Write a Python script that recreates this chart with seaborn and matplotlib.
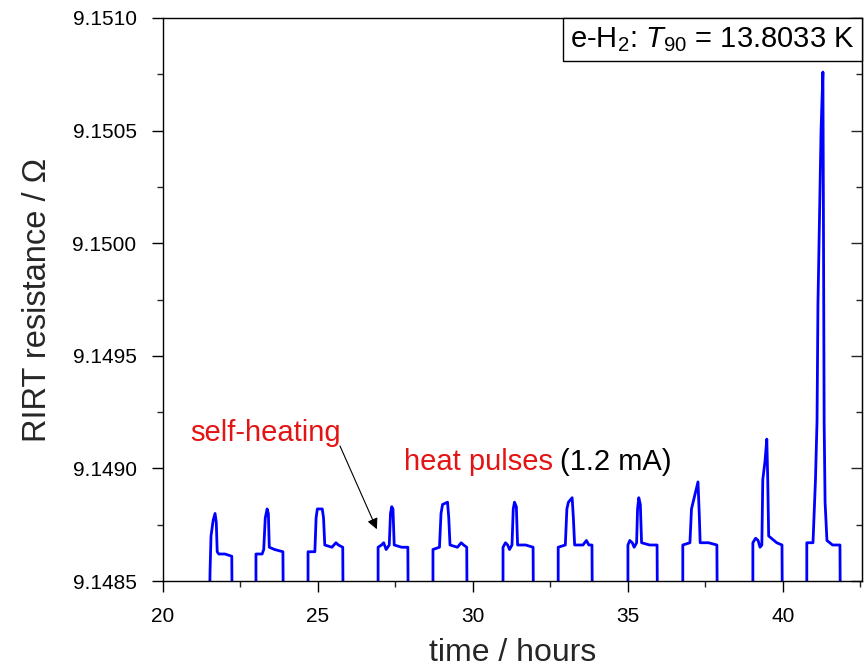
import matplotlib
matplotlib.use('Agg')
import matplotlib.pyplot as plt
import pandas as pd
import seaborn as sns
from matplotlib.ticker import MultipleLocator, FormatStrFormatter
from matplotlib.offsetbox import AnchoredText

sns.set_style('ticks')
plt.rcParams['font.family'] = ['Liberation Sans', 'DejaVu Sans']
plt.rcParams['mathtext.fontset'] = 'custom'
plt.rcParams['mathtext.rm'] = 'Liberation Sans'
plt.rcParams['mathtext.it'] = 'Liberation Sans:italic'

# Trace, pulse by pulse (9.1484 = off-scale low)
time_h = [
    # pulse 1
    21.50, 21.52, 21.55, 21.62, 21.68, 21.72, 21.75, 21.80, 22.00, 22.22, 22.23,
    # pulse 2
    23.00, 23.00, 23.20, 23.25, 23.30, 23.36, 23.40, 23.43, 23.60, 23.87, 23.88,
    # pulse 3
    24.68, 24.68, 24.90, 24.94, 24.98, 25.14, 25.18, 25.22, 25.45, 25.58, 25.66, 25.80, 25.81,
    # pulse 4
    26.94, 26.94, 27.05, 27.12, 27.20, 27.30, 27.34, 27.38, 27.42, 27.46, 27.70, 27.90, 27.91,
    # pulse 5
    28.71, 28.71, 28.92, 28.97, 29.02, 29.18, 29.22, 29.26, 29.50, 29.62, 29.70, 29.80, 29.81,
    # pulse 6
    30.97, 30.97, 31.05, 31.12, 31.18, 31.26, 31.30, 31.34, 31.40, 31.44, 31.70, 31.94, 31.95,
    # pulse 7
    32.75, 32.75, 32.98, 33.03, 33.08, 33.20, 33.24, 33.28, 33.55, 33.66, 33.74, 33.84, 33.85,
    # pulse 8
    35.00, 35.00, 35.06, 35.14, 35.20, 35.28, 35.31, 35.35, 35.40, 35.44, 35.70, 35.94, 35.95,
    # pulse 9
    36.77, 36.77, 37.00, 37.05, 37.12, 37.26, 37.30, 37.33, 37.60, 37.87, 37.88,
    # pulse 10
    39.03, 39.03, 39.12, 39.20, 39.26, 39.32, 39.35, 39.42, 39.48, 39.51, 39.54, 39.80, 39.97, 39.98,
    # pulse 11
    40.77, 40.77, 40.97, 41.05, 41.10, 41.13, 41.23, 41.29, 41.31, 41.33, 41.36, 41.42, 41.60, 41.84, 41.85,
]
resistance = [
    9.1484, 9.14855, 9.14870, 9.14877, 9.14880, 9.14876, 9.14863, 9.14862, 9.14862, 9.14861, 9.1484,
    9.1484, 9.14862, 9.14862, 9.14864, 9.14878, 9.14882, 9.14880, 9.14865, 9.14864, 9.14863, 9.1484,
    9.1484, 9.14863, 9.14863, 9.14878, 9.14882, 9.14882, 9.14878, 9.14866, 9.14865, 9.14867, 9.14866, 9.14865, 9.1484,
    9.1484, 9.14865, 9.14866, 9.14867, 9.14864, 9.14866, 9.14880, 9.14883, 9.14882, 9.14866, 9.14865, 9.14865, 9.1484,
    9.1484, 9.14864, 9.14865, 9.14880, 9.14884, 9.14885, 9.14878, 9.14866, 9.14865, 9.14867, 9.14866, 9.14865, 9.1484,
    9.1484, 9.14865, 9.14867, 9.14866, 9.14864, 9.14866, 9.14882, 9.14885, 9.14883, 9.14866, 9.14866, 9.14865, 9.1484,
    9.1484, 9.14865, 9.14866, 9.14882, 9.14885, 9.14887, 9.14878, 9.14866, 9.14866, 9.14868, 9.14866, 9.14866, 9.1484,
    9.1484, 9.14866, 9.14868, 9.14867, 9.14865, 9.14867, 9.14882, 9.14887, 9.14884, 9.14867, 9.14866, 9.14866, 9.1484,
    9.1484, 9.14866, 9.14867, 9.14882, 9.14886, 9.14894, 9.14880, 9.14867, 9.14867, 9.14866, 9.1484,
    9.1484, 9.14867, 9.14869, 9.14868, 9.14865, 9.14866, 9.14895, 9.14903, 9.14913, 9.14895, 9.14870, 9.14867, 9.14866, 9.1484,
    9.1484, 9.14867, 9.14867, 9.14895, 9.14921, 9.14973, 9.15050, 9.15076, 9.15000, 9.14920, 9.14885, 9.14868, 9.14866, 9.14866, 9.1484,
]

df = pd.DataFrame({'time': time_h, 'R': resistance})

fig = plt.figure(figsize=(8.65, 6.69), dpi=100)
ax = fig.add_axes([0.1884, 0.1315, 0.8081, 0.8416])

sns.lineplot(data=df, x='time', y='R', sort=False, estimator=None,
             color='#0000ff', linewidth=2.0, ax=ax)

ax.set_xlim(20, 42.55)
ax.set_ylim(9.1485, 9.1510)
ax.xaxis.set_major_locator(MultipleLocator(5))
ax.xaxis.set_minor_locator(MultipleLocator(2.5))
ax.yaxis.set_major_locator(MultipleLocator(0.0005))
ax.yaxis.set_minor_locator(MultipleLocator(0.00025))
ax.yaxis.set_major_formatter(FormatStrFormatter('%.4f'))

for s in ax.spines.values():
    s.set_visible(True)
    s.set_color('black')
    s.set_linewidth(1.0)
ax.tick_params(which='major', direction='out', length=8, width=1.0,
               labelsize=15, colors='black')
ax.tick_params(axis='x', which='major', pad=11)
ax.tick_params(axis='y', which='major', pad=11)
ax.tick_params(which='minor', direction='out', length=4, width=1.0)

right = ax.secondary_yaxis('right')
right.yaxis.set_major_locator(MultipleLocator(0.0005))
right.yaxis.set_minor_locator(MultipleLocator(0.00025))
right.tick_params(which='major', direction='in', length=8, width=1.0, labelright=False)
right.tick_params(which='minor', direction='in', length=4, width=1.0)

ax.set_xlabel('time / hours', fontsize=23, labelpad=8)
ax.set_ylabel('RIRT resistance / Ω', fontsize=23.5, labelpad=14)

# annotations
red = '#e41414'
ax.text(20.87, 9.149157, 'self-heating', color=red, fontsize=21,
        ha='left', va='center')
hp = ax.text(27.77, 9.149028, 'heat pulses', color=red, fontsize=21,
             ha='left', va='center')
ax.annotate('(1.2 mA)', xy=(1, 0), xycoords=hp, xytext=(5, 0),
            textcoords='offset points', ha='left', va='bottom',
            fontsize=21, color='black')
ax.annotate('', xy=(26.90, 9.14873), xytext=(25.71, 9.14910),
            arrowprops=dict(arrowstyle='-|>', color='black', lw=0.8,
                            mutation_scale=16, shrinkA=0, shrinkB=0))

box = AnchoredText(r'e-H$_2$: $\mathit{T_{90}}$ = 13.8033 K', loc='upper right',
                   borderpad=0, pad=0.25, frameon=True,
                   prop=dict(size=21, color='black'))
box.patch.set_boxstyle('square,pad=0')
box.patch.set_edgecolor('black')
box.patch.set_linewidth(1.0)
ax.add_artist(box)

fig.savefig('out.png', dpi=100)
